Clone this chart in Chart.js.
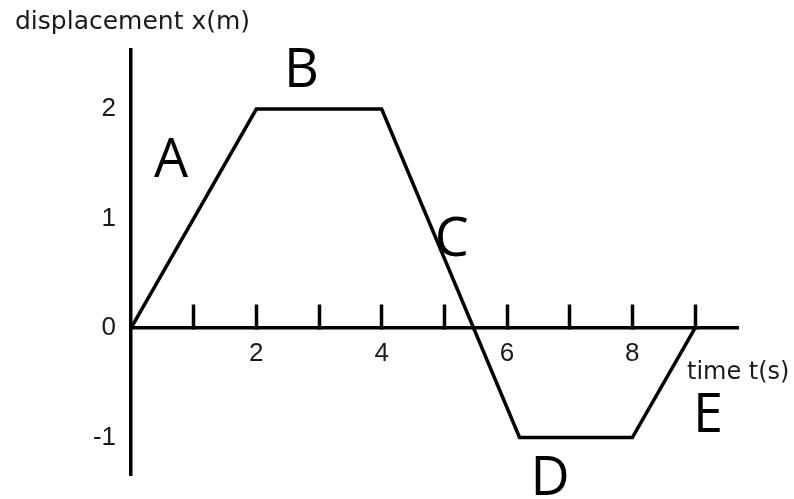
<!DOCTYPE html>
<html><head><meta charset="utf-8">
<script src="https://cdn.jsdelivr.net/npm/chart.js@4.4.1/dist/chart.umd.min.js"></script>
<style>html,body{margin:0;padding:0;background:#fff}#wrap{width:794px;height:499px}</style>
</head><body><div id="wrap"><canvas id="c" width="794" height="499"></canvas></div>
<script>
// Data
const timeValues = [0, 2, 4, 6.2, 8, 9];
const displacementValues = [0, 2, 2, -1, -1, 0];
const xTickValues = [1, 2, 3, 4, 5, 6, 7, 8, 9];
const xTickLabels = ['', '2', '', '4', '', '6', '', '8', ''];
const yTickValues = [-1, 0, 1, 2];
const segmentNames = ['A', 'B', 'C', 'D', 'E'];
const segmentNameTimes = [0.638, 2.72, 5.12, 6.686, 9.207];
const segmentNameDisplacements = [1.379, 2.201, 0.658, -1.525, -0.950];
const xAxisTitle = 'time t(s)';
const yAxisTitle = 'displacement x(m)';

const numFont = "'Liberation Sans', Arial, sans-serif";

const textPlugin = {
  id: 'segmentText',
  afterDatasetsDraw(chart) {
    const ctx = chart.ctx, xs = chart.scales.x, ys = chart.scales.y;
    ctx.save();
    ctx.fillStyle = '#000';
    ctx.textAlign = 'center';
    ctx.textBaseline = 'alphabetic';
    ctx.font = '54px "Open Sans"';
    segmentNames.forEach((n, i) => {
      ctx.fillText(n, xs.getPixelForValue(segmentNameTimes[i]), ys.getPixelForValue(segmentNameDisplacements[i]));
    });
    ctx.font = '24px "DejaVu Sans"';
    ctx.fillStyle = '#1a1a1a';
    ctx.textAlign = 'left';
    ctx.fillText(xAxisTitle, xs.getPixelForValue(8.872), ys.getPixelForValue(-0.466));
    ctx.restore();
  }
};

function draw() {
  new Chart(document.getElementById('c'), {
    type: 'line',
    data: {
      datasets: [{
        data: timeValues.map((t, i) => ({x: t, y: displacementValues[i]})),
        borderColor: '#000',
        borderWidth: 3.5,
        pointRadius: 0,
        tension: 0,
        fill: false,
        clip: false,
        borderJoinStyle: 'miter'
      }]
    },
    options: {
      responsive: false,
      devicePixelRatio: 1,
      animation: false,
      layout: {padding: {left: 15, right: 56, top: 0, bottom: 24}},
      plugins: {
        legend: {display: false},
        tooltip: {enabled: false},
        title: {
          display: true,
          text: yAxisTitle,
          align: 'start',
          color: '#1a1a1a',
          font: {family: 'DejaVu Sans', size: 25, weight: 'normal'},
          padding: {top: 7, bottom: 13}
        }
      },
      scales: {
        x: {
          type: 'linear',
          position: {y: 0},
          min: 0,
          max: 9.686,
          afterBuildTicks: s => { s.ticks = xTickValues.map(v => ({value: v})); },
          ticks: {
            autoSkip: false,
            maxRotation: 0,
            padding: 35.4,
            color: '#1a1a1a',
            font: {family: numFont, size: 26},
            callback: v => xTickLabels[xTickValues.indexOf(v)]
          },
          grid: {drawOnChartArea: false, drawTicks: true, tickLength: -25, tickWidth: 3.5, tickColor: '#000'},
          border: {display: true, color: '#000', width: 3.5}
        },
        y: {
          type: 'linear',
          position: 'left',
          min: -1.342,
          max: 2.539,
          afterBuildTicks: s => { s.ticks = yTickValues.map(v => ({value: v})); },
          afterFit: s => { s.width = 116; },
          ticks: {
            padding: 0,
            color: '#1a1a1a',
            font: {family: numFont, size: 26},
            callback: v => String(v)
          },
          grid: {drawOnChartArea: false, drawTicks: true, tickLength: 15, tickColor: 'rgba(0,0,0,0)'},
          border: {display: true, color: '#000', width: 3.5}
        }
      }
    },
    plugins: [textPlugin]
  });
}

Promise.all([
  document.fonts.load('54px "Open Sans"'),
  document.fonts.load('24px "DejaVu Sans"'),
  document.fonts.load("26px 'Liberation Sans'")
]).then(draw, draw);
</script>
</body></html>
